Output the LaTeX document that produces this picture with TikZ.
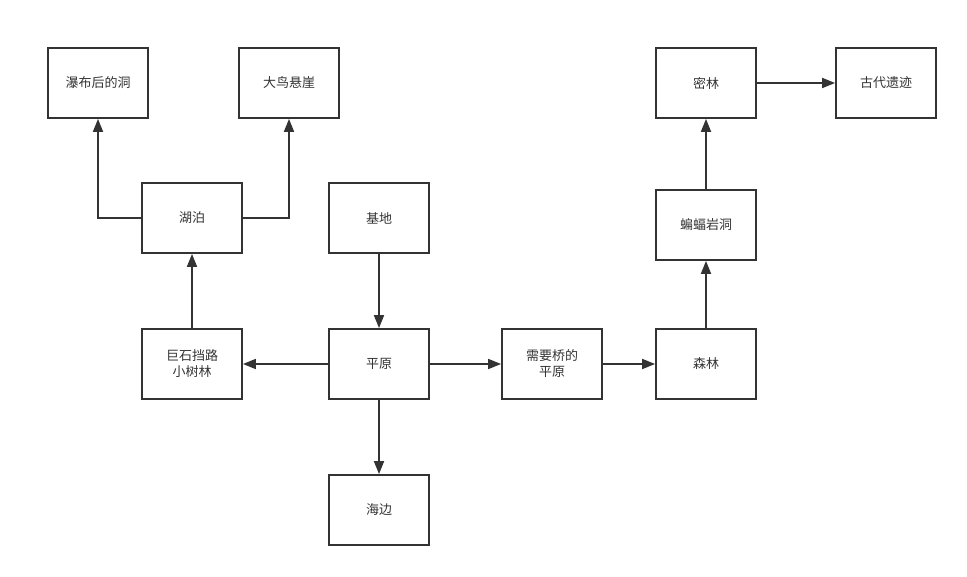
\documentclass[tikz,border=0pt]{standalone}
\usepackage{fontspec}
\setmainfont{Noto Sans CJK SC}
\usetikzlibrary{arrows.meta}
\definecolor{ink}{HTML}{333333}
\tikzset{
  box/.style={draw=ink, line width=1.8pt, minimum width=100pt, minimum height=70pt, inner sep=2pt, align=center, text=ink, font=\fontsize{13pt}{16pt}\selectfont},
  link/.style={draw=ink, line width=1.8pt, -{Triangle[length=13pt,width=10pt]}}
}
\begin{document}
\begin{tikzpicture}[x=1pt,y=-1pt]
\useasboundingbox (0,0) rectangle (967,577);
\node[box] (waterfall) at (98,83) {瀑布后的洞};
\node[box] (cliff) at (289,83) {大鸟悬崖};
\node[box] (jungle) at (706,83) {密林};
\node[box] (ruins) at (886,83) {古代遗迹};
\node[box] (lake) at (192,218) {湖泊};
\node[box] (base) at (379,218) {基地};
\node[box] (bat) at (706,225) {蝙蝠岩洞};
\node[box] (rock) at (192,364) {巨石挡路\\小树林};
\node[box] (plain) at (379,364) {平原};
\node[box] (bridge) at (552,364) {需要桥的\\平原};
\node[box] (forest) at (706,364) {森林};
\node[box] (sea) at (379,510) {海边};
\draw[link] (lake.west) -| (waterfall.south);
\draw[link] (lake.east) -| (cliff.south);
\draw[link] (rock.north) -- (lake.south);
\draw[link] (base.south) -- (plain.north);
\draw[link] (plain.west) -- (rock.east);
\draw[link] (plain.east) -- (bridge.west);
\draw[link] (plain.south) -- (sea.north);
\draw[link] (bridge.east) -- (forest.west);
\draw[link] (forest.north) -- (bat.south);
\draw[link] (bat.north) -- (jungle.south);
\draw[link] (jungle.east) -- (ruins.west);
\end{tikzpicture}
\end{document}
